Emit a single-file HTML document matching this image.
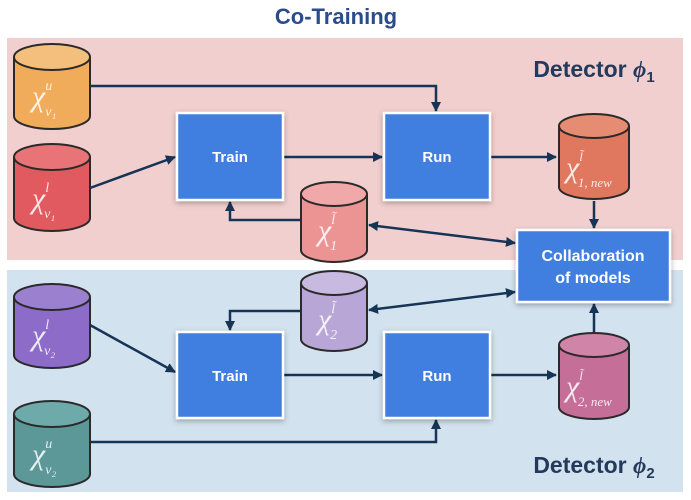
<!DOCTYPE html>
<html><head><style>
body{margin:0;background:#fff;width:691px;height:500px;overflow:hidden}
svg{display:block}
.t{font-family:"Liberation Sans",sans-serif;font-weight:bold;fill:#fff}
.m{font-family:"Liberation Serif",serif;font-style:italic;fill:#fff;opacity:.85}
</style></head><body>
<svg width="691" height="500" viewBox="0 0 691 500" xmlns="http://www.w3.org/2000/svg">
<defs>
<marker id="a" markerWidth="10" markerHeight="10" refX="9" refY="5" orient="auto-start-reverse" markerUnits="userSpaceOnUse"><path d="M0,0 L10,5 L0,10 Z" fill="#163456"/></marker>
<filter id="s" x="-20%" y="-20%" width="140%" height="140%"><feDropShadow dx="0" dy="2" stdDeviation="3" flood-opacity=".3"/></filter>
</defs>
<text x="336" y="24" text-anchor="middle" font-family="Liberation Sans,sans-serif" font-weight="bold" font-size="22" fill="#2a4b8c">Co-Training</text>
<rect x="7" y="38" width="676" height="222" fill="#f2cfcf"/>
<rect x="7" y="270" width="676" height="222" fill="#d3e2ef"/>
<text x="594" y="77" text-anchor="middle" font-family="Liberation Sans,sans-serif" font-weight="bold" font-size="23" fill="#243a5c">Detector <tspan font-family="Liberation Serif,serif" font-style="italic">ϕ</tspan><tspan font-size="15" dy="5">1</tspan></text>
<text x="594" y="473" text-anchor="middle" font-family="Liberation Sans,sans-serif" font-weight="bold" font-size="23" fill="#243a5c">Detector <tspan font-family="Liberation Serif,serif" font-style="italic">ϕ</tspan><tspan font-size="15" dy="5">2</tspan></text>

<g stroke="#163456" stroke-width="2.5" fill="none">
<path d="M90,86 H436 V111" marker-end="url(#a)"/>
<path d="M90,188 L175,157" marker-end="url(#a)"/>
<path d="M283,157 H382" marker-end="url(#a)"/>
<path d="M490,157 H556" marker-end="url(#a)"/>
<path d="M594,201 V228" marker-end="url(#a)"/>
<path d="M300,220 H230 V202" marker-end="url(#a)"/>
<path d="M369,225 L515,243" marker-start="url(#a)" marker-end="url(#a)"/>
<path d="M369,310 L515,292" marker-start="url(#a)" marker-end="url(#a)"/>
<path d="M300,311 H230 V330" marker-end="url(#a)"/>
<path d="M90,325 L175,372" marker-end="url(#a)"/>
<path d="M283,375 H382" marker-end="url(#a)"/>
<path d="M490,375 H556" marker-end="url(#a)"/>
<path d="M594,332 V304" marker-end="url(#a)"/>
<path d="M90,442 H436 V420" marker-end="url(#a)"/>
</g>

<g stroke="#fff" stroke-width="2.5" fill="#3f7fe0" filter="url(#s)">
<rect x="177" y="113" width="106" height="87"/>
<rect x="384" y="113" width="106" height="87"/>
<rect x="177" y="332" width="106" height="86"/>
<rect x="384" y="332" width="106" height="86"/>
<rect x="517" y="230" width="153" height="72"/>
</g>
<g class="t" font-size="15" text-anchor="middle">
<text x="230" y="162">Train</text><text x="437" y="162">Run</text>
<text x="230" y="381">Train</text><text x="437" y="381">Run</text>
<text x="593" y="261" font-size="16">Collaboration</text><text x="593" y="283" font-size="16">of models</text>
</g>

<g stroke="#2a2a2a" stroke-width="2">
<path d="M14,57 V116 A38,13 0 0 0 90,116 V57" fill="#f0ac5a"/><ellipse cx="52" cy="57" rx="38" ry="13" fill="#f4be7c"/>
<path d="M14,157 V218 A38,13 0 0 0 90,218 V157" fill="#e05a60"/><ellipse cx="52" cy="157" rx="38" ry="13" fill="#e87478"/>
<path d="M559,126 V187 A35,12 0 0 0 629,187 V126" fill="#df785e"/><ellipse cx="594" cy="126" rx="35" ry="12" fill="#e68c72"/>
<path d="M301,194 V250 A33,12 0 0 0 367,250 V194" fill="#ec9494"/><ellipse cx="334" cy="194" rx="33" ry="12" fill="#f0a8a8"/>
<path d="M301,283 V339 A33,12 0 0 0 367,339 V283" fill="#b8a6d6"/><ellipse cx="334" cy="283" rx="33" ry="12" fill="#c8b9e0"/>
<path d="M14,297 V355 A38,13 0 0 0 90,355 V297" fill="#8c6cc8"/><ellipse cx="52" cy="297" rx="38" ry="13" fill="#9c80d0"/>
<path d="M559,345 V407 A35,12 0 0 0 629,407 V345" fill="#c46e98"/><ellipse cx="594" cy="345" rx="35" ry="12" fill="#d084a8"/>
<path d="M14,414 V474 A38,13 0 0 0 90,474 V414" fill="#5c9898"/><ellipse cx="52" cy="414" rx="38" ry="13" fill="#6eaaaa"/>
</g>
<g class="m" font-size="30">
<text x="32" y="106">χ<tspan font-size="14" dy="-16">u</tspan><tspan font-size="14" dx="-7" dy="26">v₁</tspan></text>
<text x="32" y="208">χ<tspan font-size="14" dy="-16">l</tspan><tspan font-size="14" dx="-5" dy="26">v₁</tspan></text>
<text x="32" y="345">χ<tspan font-size="14" dy="-16">l</tspan><tspan font-size="14" dx="-5" dy="26">v₂</tspan></text>
<text x="32" y="464">χ<tspan font-size="14" dy="-16">u</tspan><tspan font-size="14" dx="-7" dy="26">v₂</tspan></text>
<text x="318" y="240">χ<tspan font-size="14" dy="-16">l̃</tspan><tspan font-size="14" dx="-5" dy="26">1</tspan></text>
<text x="318" y="329">χ<tspan font-size="14" dy="-16">l̃</tspan><tspan font-size="14" dx="-5" dy="26">2</tspan></text>
<text x="566" y="177">χ<tspan font-size="13" dy="-16">l̃</tspan><tspan font-size="13" dx="-5" dy="26">1, new</tspan></text>
<text x="566" y="396">χ<tspan font-size="13" dy="-16">l̃</tspan><tspan font-size="13" dx="-5" dy="26">2, new</tspan></text>
</g>
</svg>
</body></html>
